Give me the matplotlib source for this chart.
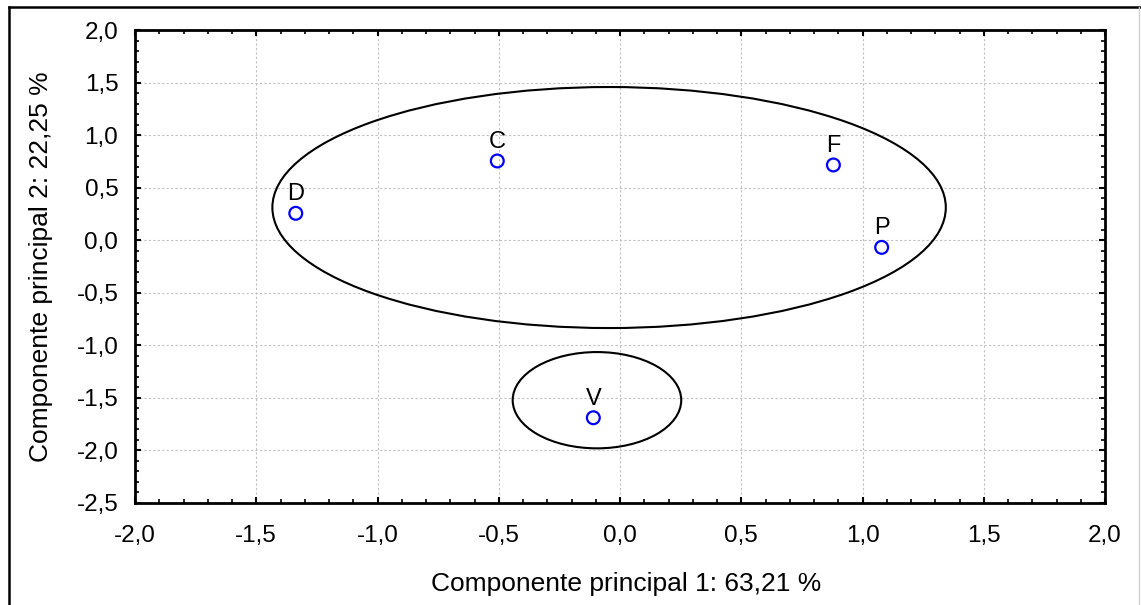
import matplotlib
matplotlib.use("Agg")
import matplotlib.pyplot as plt
from matplotlib.patches import Ellipse
from matplotlib.ticker import MultipleLocator, FuncFormatter
from matplotlib.lines import Line2D

plt.rcParams['font.family'] = ['Liberation Sans', 'DejaVu Sans']

labels = ['D', 'C', 'F', 'P', 'V']
pc1 = [-1.337, -0.506, 0.880, 1.079, -0.110]
pc2 = [0.256, 0.754, 0.716, -0.068, -1.689]

# ellipses: center x, center y, width, height
ell_cx = [-0.045, -0.095]
ell_cy = [0.311, -1.522]
ell_w = [2.777, 0.695]
ell_h = [2.293, 0.916]

xlabel = 'Componente principal 1: 63,21 %'
ylabel = 'Componente principal 2: 22,25 %'

W, H = 1141, 605
fig = plt.figure(figsize=(W / 100, H / 100), dpi=100)
ax = fig.add_axes([135 / W, 1 - 503 / H, (1105 - 135) / W, (503 - 30) / H])

ax.set_xlim(-2.0, 2.0)
ax.set_ylim(-2.5, 2.0)

ax.grid(True, which='major', linestyle=(0, (2, 2)), color='#c0c0c0', linewidth=0.8)
ax.set_axisbelow(True)

for cx, cy, w, h in zip(ell_cx, ell_cy, ell_w, ell_h):
    ax.add_patch(Ellipse((cx, cy), w, h, fill=False, edgecolor='black', linewidth=1.5, zorder=3))

ax.scatter(pc1, pc2, s=85, facecolors='none', edgecolors='#0000ff', linewidths=1.6, zorder=4)
for lab, x, y in zip(labels, pc1, pc2):
    ax.annotate(lab, (x, y), xytext=(0, 9.5), textcoords='offset points',
                ha='center', va='baseline', fontsize=17, color='black', zorder=5)

ax.xaxis.set_major_locator(MultipleLocator(0.5))
ax.xaxis.set_minor_locator(MultipleLocator(0.1))
ax.yaxis.set_major_locator(MultipleLocator(0.5))
ax.yaxis.set_minor_locator(MultipleLocator(0.1))
fmt = FuncFormatter(lambda v, p: f'{v:.1f}'.replace('.', ',').replace('-0,0', '0,0'))
ax.xaxis.set_major_formatter(fmt)
ax.yaxis.set_major_formatter(fmt)

ax.tick_params(which='both', direction='in', top=True, right=True, labelsize=17.5, width=1.5)
ax.tick_params(which='major', length=4.5)
ax.tick_params(which='minor', length=2.8, width=1.2)
ax.tick_params(axis='x', which='major', pad=16)
ax.tick_params(axis='y', which='major', pad=12)
for s in ax.spines.values():
    s.set_linewidth(2)

ax.set_xlabel(xlabel, fontsize=19)
ax.set_ylabel(ylabel, fontsize=19)
ax.xaxis.set_label_coords(0.506, -(572 - 503) / 473)
ax.yaxis.set_label_coords(-(135 - 53) / 970, 0.5)

# outer frame
fig.add_artist(Line2D([9 / W, 9 / W], [0, 1 - 7 / H], transform=fig.transFigure, color='black', lw=1.8))
fig.add_artist(Line2D([9 / W, 1], [1 - 7 / H, 1 - 7 / H], transform=fig.transFigure, color='black', lw=1.8))
fig.add_artist(Line2D([1139 / W, 1139 / W], [0, 1 - 7 / H], transform=fig.transFigure, color='#d0d0d0', lw=1.0))

fig.savefig('out.png', dpi=100)
